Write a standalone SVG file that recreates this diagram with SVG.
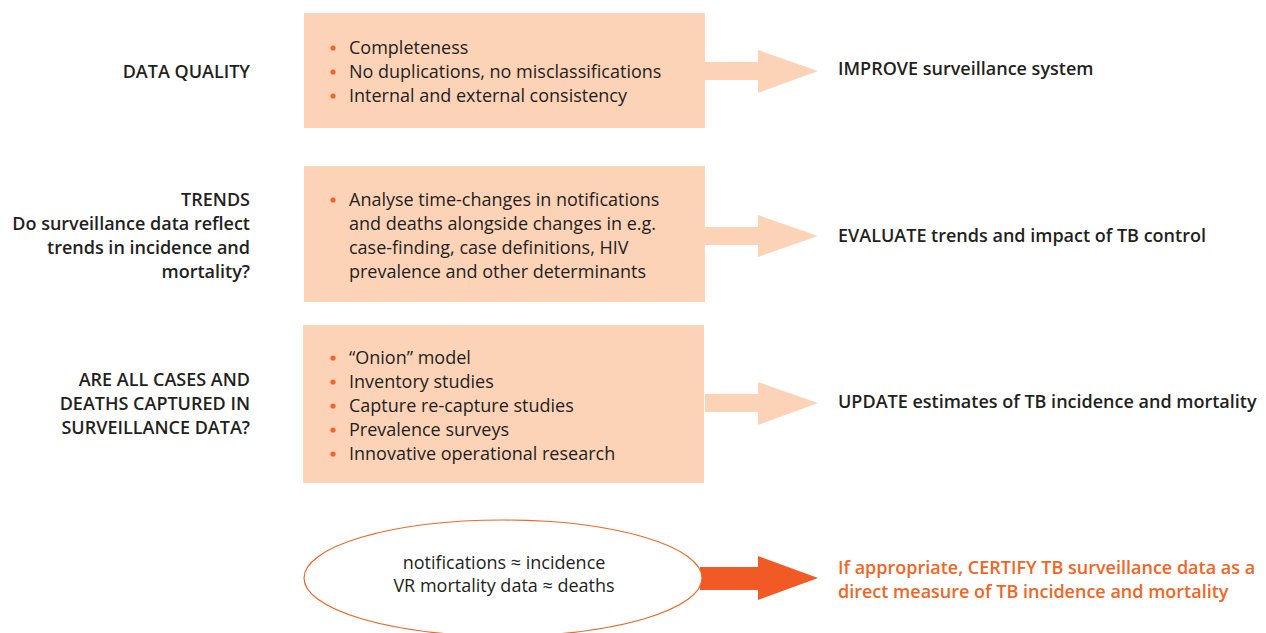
<svg xmlns="http://www.w3.org/2000/svg" width="1266" height="633" viewBox="0 0 1266 633">
  <style>
    .lbl { font-family: "Open Sans", "Noto Sans", sans-serif; font-size: 18px; font-weight: 600; fill: #231f20; }
    .item { font-family: "Open Sans", "Noto Sans", sans-serif; font-size: 18px; fill: #231f20; }
    .act { font-family: "Open Sans", "Noto Sans", sans-serif; font-size: 18px; font-weight: 600; fill: #231f20; }
    .cert { font-family: "Open Sans", "Noto Sans", sans-serif; font-size: 18px; font-weight: 600; fill: #f26522; }
    .box { fill: #fdd3b8; }
    .dot { fill: #f26522; }
    .soft { fill: #fdd3b8; }
    .strong { fill: #f15a24; }
  </style>

  <!-- connectors: block arrows from each box to its action -->
  <g id="connectors">
    <polygon class="soft" points="705,62 758,62 758,50 818,71 758,93 758,80 705,80"/>
    <polygon class="soft" points="705,227 758,227 758,215 818,236 758,257 758,245 705,245"/>
    <polygon class="soft" points="705,394 758,394 758,382 818,403 758,425 758,412 705,412"/>
    <polygon class="strong" points="700,567 758,567 758,556 818,578 758,600 758,590 700,590"/>
  </g>

  <!-- row 1: data quality -->
  <g id="label-quality">
    <text class="lbl" x="250" y="78" text-anchor="end">DATA QUALITY</text>
  </g>
  <g id="box-quality">
    <rect class="box" x="304" y="13" width="401" height="115"/>
    <circle class="dot" cx="333" cy="48" r="2.6"/>
    <circle class="dot" cx="333" cy="72" r="2.6"/>
    <circle class="dot" cx="333" cy="96" r="2.6"/>
    <text class="item" x="349" y="54">Completeness</text>
    <text class="item" x="349" y="78">No duplications, no misclassifications</text>
    <text class="item" x="349" y="102">Internal and external consistency</text>
  </g>
  <g id="action-improve">
    <text class="act" x="838" y="75">IMPROVE surveillance system</text>
  </g>

  <!-- row 2: trends -->
  <g id="label-trends">
    <text class="lbl" x="250" y="206" text-anchor="end">TRENDS</text>
    <text class="lbl" x="250" y="230" text-anchor="end">Do surveillance data reflect</text>
    <text class="lbl" x="250" y="254" text-anchor="end">trends in incidence and</text>
    <text class="lbl" x="250" y="278" text-anchor="end">mortality?</text>
  </g>
  <g id="box-trends">
    <rect class="box" x="304" y="166" width="401" height="136"/>
    <circle class="dot" cx="333" cy="200" r="2.6"/>
    <text class="item" x="349" y="206">Analyse time-changes in notifications</text>
    <text class="item" x="349" y="230">and deaths alongside changes in e.g.</text>
    <text class="item" x="349" y="254">case-finding, case definitions, HIV</text>
    <text class="item" x="349" y="278">prevalence and other determinants</text>
  </g>
  <g id="action-evaluate">
    <text class="act" x="838" y="242">EVALUATE trends and impact of TB control</text>
  </g>

  <!-- row 3: completeness of capture -->
  <g id="label-capture">
    <text class="lbl" x="250" y="386" text-anchor="end">ARE ALL CASES AND</text>
    <text class="lbl" x="250" y="410" text-anchor="end">DEATHS CAPTURED IN</text>
    <text class="lbl" x="250" y="434" text-anchor="end">SURVEILLANCE DATA?</text>
  </g>
  <g id="box-capture">
    <rect class="box" x="303" y="325" width="401" height="158"/>
    <circle class="dot" cx="333" cy="358" r="2.6"/>
    <circle class="dot" cx="333" cy="382" r="2.6"/>
    <circle class="dot" cx="333" cy="406" r="2.6"/>
    <circle class="dot" cx="333" cy="430" r="2.6"/>
    <circle class="dot" cx="333" cy="454" r="2.6"/>
    <text class="item" x="349" y="364">“Onion” model</text>
    <text class="item" x="349" y="388">Inventory studies</text>
    <text class="item" x="349" y="412">Capture re-capture studies</text>
    <text class="item" x="349" y="436">Prevalence surveys</text>
    <text class="item" x="349" y="460">Innovative operational research</text>
  </g>
  <g id="action-update">
    <text class="act" x="838" y="408">UPDATE estimates of TB incidence and mortality</text>
  </g>

  <!-- row 4: certification -->
  <g id="ellipse-condition">
    <ellipse cx="503" cy="578" rx="199" ry="58" fill="#ffffff" stroke="#f26522" stroke-width="1.2"/>
    <text class="item" x="504" y="569" text-anchor="middle">notifications ≈ incidence</text>
    <text class="item" x="504" y="592" text-anchor="middle">VR mortality data ≈ deaths</text>
  </g>
  <g id="action-certify">
    <text class="cert" x="838" y="574">If appropriate, CERTIFY TB surveillance data as a</text>
    <text class="cert" x="838" y="598">direct measure of TB incidence and mortality</text>
  </g>
</svg>
